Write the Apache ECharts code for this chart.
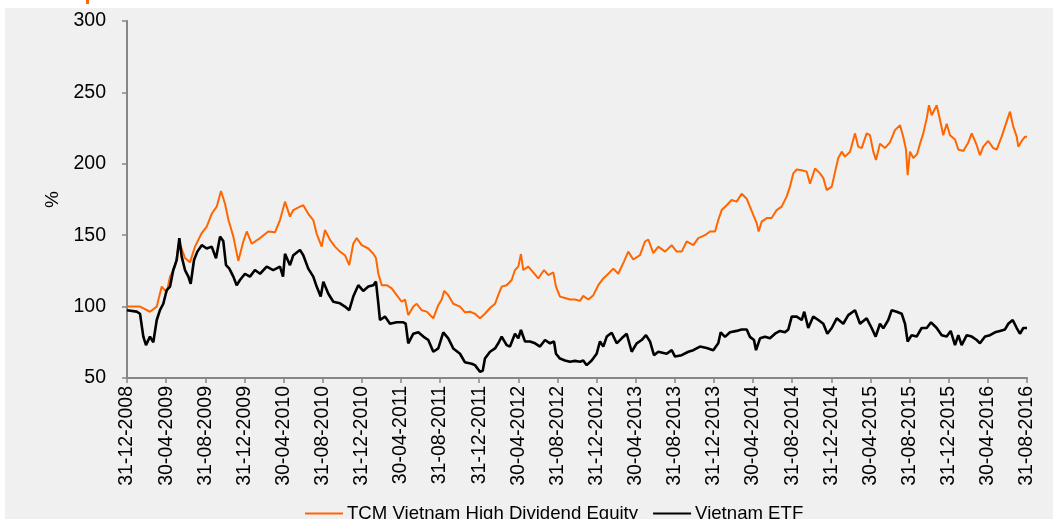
<!DOCTYPE html>
<html>
<head>
<meta charset="utf-8">
<script src="https://cdn.jsdelivr.net/npm/echarts@6/dist/echarts.min.js"></script>
<style>
  html, body { margin: 0; padding: 0; background: #ffffff; width: 1053px; height: 519px; overflow: hidden; }
  #frame { position: absolute; left: 5px; top: 8px; width: 1048px; height: 511px; background: #f0f0f0; }
  #chart { width: 1048px; height: 511px; }
  #mark { position: absolute; left: 86px; top: 0px; width: 3px; height: 4px; background: #ff6600; }
</style>
</head>
<body>
<div id="mark"></div>
<div id="frame"><div id="chart"></div></div>
<script>
// x positions are months since 31-12-2008
const xTickLabels = ['31-12-2008','30-04-2009','31-08-2009','31-12-2009','30-04-2010','31-08-2010','31-12-2010','30-04-2011','31-08-2011','31-12-2011','30-04-2012','31-08-2012','31-12-2012','30-04-2013','31-08-2013','31-12-2013','30-04-2014','31-08-2014','31-12-2014','30-04-2015','31-08-2015','31-12-2015','30-04-2016','31-08-2016'];

const tcmMonths = [0,1.33,2.35,3.04,3.55,4.06,4.40,4.91,5.35,5.93,6.44,6.95,7.64,8.15,8.66,9.17,9.61,10.02,10.36,10.87,11.38,11.89,12.24,12.75,13.60,14.44,15.13,15.64,16.15,16.66,17.00,17.68,18.02,18.53,19.04,19.39,19.90,20.24,20.75,21.26,21.77,22.28,22.72,23.13,23.48,23.99,24.67,25.18,25.45,25.69,26.04,26.55,27.06,27.57,28.08,28.42,28.75,29.27,29.61,30.12,30.64,31.31,31.82,32.17,32.43,32.84,33.35,34.04,34.55,35.06,35.57,36.08,36.59,37.11,37.62,37.95,38.30,38.81,39.32,39.66,40.00,40.27,40.51,41.02,41.53,42.04,42.63,43.07,43.58,43.85,44.26,44.77,45.28,45.79,46.31,46.64,47.16,47.67,48.18,48.69,49.20,49.71,50.22,50.80,51.24,51.75,52.44,52.95,53.29,53.80,54.31,55.00,55.68,56.19,56.70,57.21,57.89,58.40,59.08,59.59,60.11,60.44,60.79,61.30,61.81,62.32,62.83,63.35,63.68,64.09,64.37,64.57,64.88,65.39,65.90,66.41,66.92,67.43,67.77,68.11,68.46,68.97,69.48,69.82,70.33,70.84,71.18,71.52,72.04,72.37,72.71,73.06,73.39,73.91,74.42,74.75,75.10,75.61,75.95,76.29,76.56,76.97,77.48,77.99,78.50,79.02,79.35,79.63,79.80,80.04,80.38,80.78,81.06,81.40,81.75,81.98,82.26,82.77,83.11,83.44,83.79,84.13,84.64,84.98,85.49,86.00,86.35,86.86,87.19,87.53,88.04,88.55,88.90,89.41,89.75,90.26,90.60,90.95,91.11,91.46,91.80,92.00];
const tcmValues = [100,100,96.4,100,114,110,121,128,145,134,131,142,151.5,156,165,170,181,172,161,149,132,145.6,152.6,144,148,152.6,152,160.6,173.5,163,167.6,170,171,165,160.6,151,142,153.6,146.7,142,138.5,136,129,144,148,143,140.7,137,134,123,115,115,112.8,108,103.4,105,94,100,102,97.5,96.5,91.8,101,105,111,108,102,100,96,96.4,95,91.8,95,99,102,108,114,115,118.6,125.6,128,136.8,125.6,128,124,119.7,125.6,122,124,114,107,106,105,105,104,107.5,105,108,115,119.7,123,126.6,123,131.5,138.5,133,136,145.6,147,137.5,142,138.5,143,138.5,138.5,145.6,143,148,150,152.6,152.6,160.6,167.6,171,174.6,173.5,179,175.5,170,163,158.4,152.6,159.5,162,162,167.6,170,177,184,193.3,196,195.5,194.5,186,196.7,193.3,190,181.6,184,194,204,208.5,205,208.5,221.3,212,211,221.3,220,208.5,202.7,214,211,215,223.6,227,219,210,192,208.5,204,207,214,221.3,231.8,241,234,241,230.7,220,228,220,217,210,209,215,221.3,213,206,212,216,211,210,219,226,236.5,226,219,212,216,219,219];

const etfMonths = [0,0.99,1.33,1.67,1.94,2.35,2.69,3.04,3.37,3.71,4.06,4.40,4.73,5.08,5.35,5.59,5.93,6.27,6.51,6.85,7.19,7.64,8.15,8.66,9.10,9.51,9.84,10.12,10.46,10.87,11.21,11.55,12.06,12.57,13.08,13.60,14.28,14.95,15.64,15.95,16.15,16.66,17.00,17.68,18.02,18.53,19.04,19.39,19.80,20.07,20.58,21.09,21.77,22.28,22.72,23.13,23.64,24.15,24.67,25.18,25.45,25.69,25.86,26.37,26.88,27.57,28.24,28.49,28.75,29.27,29.78,30.29,30.80,31.31,31.82,32.33,32.84,33.35,34.04,34.55,35.23,35.57,36.08,36.36,36.59,37.11,37.62,37.95,38.30,38.81,39.15,39.66,40.00,40.27,40.68,41.20,41.71,42.22,42.73,43.24,43.65,43.85,44.26,44.77,45.28,45.79,46.31,46.64,46.99,47.50,48.01,48.35,48.69,49.04,49.55,50.06,50.57,51.08,51.59,52.10,52.61,53.05,53.46,53.87,54.31,54.48,55.17,55.68,56.02,56.70,57.38,57.89,58.57,59.26,59.93,60.44,60.69,61.13,61.64,62.32,62.83,63.35,63.68,64.09,64.30,64.71,65.22,65.73,66.24,66.75,67.26,67.60,67.95,68.46,68.97,69.23,69.64,70.15,70.67,71.18,71.59,72.04,72.55,73.22,73.73,74.42,74.93,75.61,76.12,76.53,76.97,77.31,77.82,78.17,78.68,79.19,79.53,79.80,80.21,80.72,81.23,81.75,82.19,82.77,83.28,83.79,84.20,84.64,84.98,85.32,85.84,86.35,86.86,87.19,87.71,88.22,88.73,89.24,89.75,90.09,90.54,90.95,91.28,91.62,92.00];
const etfValues = [97.5,96.5,95,79,73,79,75,90.6,97.5,102,111.6,114,125.6,132.6,148,135,125.6,121,116,132.6,138.5,143,140.7,142,133.8,149,146,129,126.6,121,115,118.6,123,121,125.6,123,128,125.6,128,121,137,129,136,139.7,136,126.6,121,114,107,117.4,109,103.4,102.3,100,97.5,107,115,111,114,115,117.5,102.3,90.6,93,88,89,89,88,74.3,81,82,79,76.6,68.4,70.7,82,77.8,70.7,67,61,60,59,54.4,55,63.6,68.4,70.7,74.3,79,73,72,81,77.8,83.6,75.6,75.6,74.3,72,76.6,74.3,75.6,67,63.6,62.3,61.4,62,61.4,62.3,59,62.3,67,75.6,72,79,81.7,74.3,77.8,81,68.4,74.3,76.6,80,75.6,66,68.4,69.5,67,69.5,65,66,68.4,69.5,72,71,69.5,74.3,82,78.8,82,83,84,84,78.8,76.6,69.5,77.8,78.8,77.8,81,83,82,84,93,93,90.6,96.4,85,93,90.6,88,81,85,91.8,88,94,97.5,88,91.8,85,79,88,84.8,90.6,97.5,96.4,95,88,75.6,80,79,85,85,89,85,80,79,83,73,80,73,80,79,76.6,74.3,79,80,82,83,84,88,90.6,85,81,85,85];

const seriesNames = ['TCM Vietnam High Dividend Equity', 'Vietnam ETF'];

function pairs(xs, ys) { return xs.map((x, i) => [x, ys[i]]); }

const chart = echarts.init(document.getElementById('chart'), null, { renderer: 'canvas' });
const font = 'Liberation Sans, Arial, sans-serif';
chart.setOption({
  animation: false,
  backgroundColor: '#f0f0f0',
  textStyle: { fontFamily: font },
  grid: { left: 122, right: 26, top: 13, bottom: 141, containLabel: false },
  legend: {
    data: seriesNames,
    bottom: -9,
    left: 295,
    icon: 'rect',
    itemWidth: 38,
    itemHeight: 2,
    itemGap: 15,
    textStyle: { fontSize: 18.6, color: '#000', fontFamily: font, padding: [0, 0, 0, -1] }
  },
  xAxis: {
    type: 'value',
    min: 0, max: 92, interval: 4,
    splitLine: { show: false },
    axisLine: { lineStyle: { color: '#868686', width: 2 } },
    axisTick: { show: true, length: 5, lineStyle: { color: '#868686', width: 1.5 } },
    axisLabel: {
      rotate: 90, margin: 8, fontSize: 19.5, color: '#000', fontFamily: font,
      formatter: v => xTickLabels[Math.round(v / 4)] || ''
    }
  },
  yAxis: {
    type: 'value',
    min: 50, max: 300, interval: 50,
    name: '%', nameLocation: 'middle', nameRotate: 90, nameGap: 62,
    nameTextStyle: { fontSize: 19, color: '#000', fontFamily: font },
    splitLine: { show: false },
    axisLine: { show: true, lineStyle: { color: '#868686', width: 2 } },
    axisTick: { show: true, length: 5, lineStyle: { color: '#868686', width: 1.5 } },
    axisLabel: { margin: 21, fontSize: 19.5, color: '#000', fontFamily: font }
  },
  series: [
    {
      name: seriesNames[0], type: 'line', data: pairs(tcmMonths, tcmValues),
      showSymbol: false, symbol: 'none', z: 2,
      lineStyle: { color: '#ff6600', width: 2 }, itemStyle: { color: '#ff6600' }
    },
    {
      name: seriesNames[1], type: 'line', data: pairs(etfMonths, etfValues),
      showSymbol: false, symbol: 'none', z: 3,
      lineStyle: { color: '#000000', width: 2.6 }, itemStyle: { color: '#000000' }
    }
  ]
});
</script>
</body>
</html>
